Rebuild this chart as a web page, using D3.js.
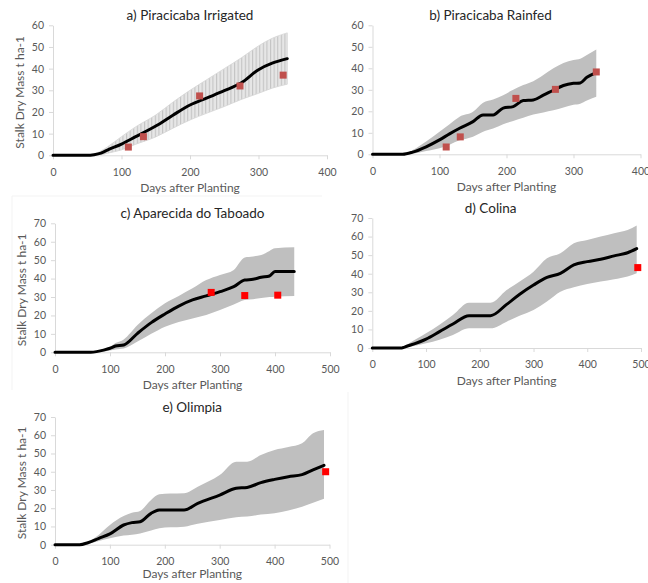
<!DOCTYPE html>
<html>
<head>
<meta charset="utf-8">
<script src="https://cdn.jsdelivr.net/npm/d3@7"></script>
<style>
  body { margin: 0; background: #fff; }
  svg { display: block; font-family: Lato, "Open Sans", sans-serif; }
</style>
</head>
<body>
<svg id="chart" width="648" height="583"></svg>
<script>
// a) Piracicaba Irrigated
const aDays = [0, 50, 60, 70, 80, 100, 120, 150, 175, 200, 225, 250, 275, 300, 320, 342];
const aMean = [0, 0, 0.3, 1, 2.5, 5.2, 8.5, 13.5, 18.5, 23.2, 26.5, 29.8, 33.5, 39.5, 42.5, 44.6];
const aUpper = [0, 0, 0.5, 2, 4, 8.6, 13, 18.6, 24.5, 30, 35, 40, 45, 50.5, 54, 56.5];
const aLower = [0, 0, 0, 0.2, 1, 2.5, 5, 8.5, 12.5, 16.3, 19.5, 22.5, 25.8, 28.6, 31, 32.8];
const aObsDays = [110, 132, 214, 273, 336];
const aObs = [3.8, 8.6, 27.4, 32, 37];

// b) Piracicaba Rainfed
const bDays = [0, 45, 60, 80, 100, 115, 130, 150, 165, 180, 195, 210, 225, 240, 255, 270, 285, 300, 310, 320, 334];
const bMean = [0, 0, 1, 3.5, 6.7, 9.5, 12.1, 15.2, 18.3, 18.3, 21.5, 22.2, 25, 25.3, 27.5, 29.8, 32, 33, 33.2, 35.8, 38];
const bUpper = [0, 0, 2, 6, 10.5, 14, 17.5, 19.8, 24, 25.5, 27.5, 30, 32.2, 34, 36.9, 40, 42.5, 43.9, 44.5, 46.2, 48.7];
const bLower = [0, 0, 0.3, 1.5, 2.8, 4.5, 6.5, 8.2, 10.5, 12, 14, 15.5, 17, 18.5, 19.5, 20.5, 21.8, 23, 23.5, 25, 26.8];
const bObsDays = [110, 131, 214, 273, 334];
const bObs = [3.4, 8.1, 26, 30.2, 38.3];

// c) Aparecida do Taboado
const cDays = [0, 65, 90, 100, 110, 125, 150, 175, 200, 225, 250, 275, 300, 325, 345, 360, 375, 390, 400, 435];
const cMean = [0, 0, 1.3, 2.2, 3.4, 4, 10.3, 16.1, 20.8, 25.1, 28.4, 30.6, 32.9, 35.6, 39.2, 39.6, 40.7, 41.4, 43.8, 43.8];
const cUpper = [0, 0, 2, 3, 5, 7, 14.8, 21.2, 26.6, 30.6, 34.7, 39.2, 42, 44.7, 51.5, 52, 52.8, 55, 56.4, 57];
const cLower = [0, 0, 0.5, 1, 1.5, 2, 5.8, 10, 13.9, 16.5, 18.4, 20.3, 23, 26, 28.4, 28.8, 29.5, 30, 30.2, 30.6];
const cObsDays = [284, 345, 405];
const cObs = [32.5, 30.8, 31];

// d) Colina
const dDays = [0, 55, 60, 100, 125, 150, 180, 200, 220, 250, 275, 300, 325, 350, 375, 400, 425, 450, 475, 492];
const dMean = [0, 0, 0.5, 4.8, 8.8, 12.9, 17.4, 17.4, 17.4, 23.5, 29.1, 33.9, 38, 40.2, 44.7, 46.5, 47.8, 49.6, 51.3, 53.5];
const dUpper = [0, 0, 1, 7.9, 12.5, 17.8, 24.4, 24.4, 24.4, 31.2, 36, 41.1, 48.3, 51, 56.4, 58.2, 60, 61.8, 63.5, 65.9];
const dLower = [0, 0, 0.2, 2.5, 4.5, 7, 10.6, 10.6, 10.6, 14.2, 17.5, 20.5, 25, 30.3, 32.7, 34.5, 35.8, 37, 38.5, 40.2];
const dObsDays = [494];
const dObs = [43.3];

// e) Olimpia
const eDays = [0, 45, 60, 80, 100, 125, 140, 155, 175, 190, 210, 235, 260, 300, 330, 350, 375, 400, 425, 450, 470, 490];
const eMean = [0, 0, 1.1, 3.5, 5.9, 10.8, 12.1, 12.6, 17.2, 19, 19, 19, 22.7, 27.2, 30.9, 31.4, 34, 35.8, 37.3, 38.4, 41, 43.5];
const eUpper = [0, 0, 1.5, 5.5, 10.8, 15.7, 17.5, 18.5, 24.5, 27.6, 28, 28.2, 31.8, 38.2, 45.5, 45.5, 49.2, 51.9, 53.5, 55.6, 61.1, 62.9];
const eLower = [0, 0, 0.5, 2, 3.5, 5, 5.5, 6.2, 7.8, 9, 9.5, 9.9, 11.5, 13.5, 15, 15.4, 16.5, 17.2, 18.8, 20.8, 23, 25.2];
const eObsDays = [493];
const eObs = [40];

const xTicks400 = [0, 100, 200, 300, 400];
const xTicks500 = [0, 100, 200, 300, 400, 500];
const yTicks60 = [0, 10, 20, 30, 40, 50, 60];
const yTicks70 = [0, 10, 20, 30, 40, 50, 60, 70];

const xLabel = "Days after Planting";
const yLabel = "Stalk Dry Mass t ha-1";

const panels = [
  { title: "a) Piracicaba Irrigated", days: aDays, mean: aMean, upper: aUpper, lower: aLower,
    obsDays: aObsDays, obs: aObs, xTicks: xTicks400, yTicks: yTicks60,
    x0: 53, x1: 327, y0: 155.3, y1: 25.3, hatch: true, obsColor: "#c0504d", showY: true },
  { title: "b) Piracicaba Rainfed", days: bDays, mean: bMean, upper: bUpper, lower: bLower,
    obsDays: bObsDays, obs: bObs, xTicks: xTicks400, yTicks: yTicks60,
    x0: 372.5, x1: 640.5, y0: 154.3, y1: 25.3, hatch: false, obsColor: "#c0504d", showY: false },
  { title: "c) Aparecida do Taboado", days: cDays, mean: cMean, upper: cUpper, lower: cLower,
    obsDays: cObsDays, obs: cObs, xTicks: xTicks500, yTicks: yTicks70,
    x0: 55, x1: 330, y0: 352.3, y1: 223.3, hatch: false, obsColor: "#ff0000", showY: true },
  { title: "d) Colina", days: dDays, mean: dMean, upper: dUpper, lower: dLower,
    obsDays: dObsDays, obs: dObs, xTicks: xTicks500, yTicks: yTicks70,
    x0: 372.3, x1: 641, y0: 348, y1: 218, hatch: false, obsColor: "#ff0000", showY: false },
  { title: "e) Olimpia", days: eDays, mean: eMean, upper: eUpper, lower: eLower,
    obsDays: eObsDays, obs: eObs, xTicks: xTicks500, yTicks: yTicks70,
    x0: 55, x1: 329.5, y0: 544.7, y1: 417, hatch: false, obsColor: "#ff0000", showY: true }
];

const svg = d3.select("#chart");

// faint chart-area frames
svg.append("path").attr("d", "M12,196 H322 M12,196 V390").attr("stroke", "#f3f3f3").attr("fill", "none");
svg.append("path").attr("d", "M348,392 V583").attr("stroke", "#f3f3f3").attr("fill", "none");

// hatch pattern for panel a error bars
const defs = svg.append("defs");
const pat = defs.append("pattern").attr("id", "hatch")
  .attr("patternUnits", "userSpaceOnUse").attr("width", 3.6).attr("height", 10);
pat.append("rect").attr("width", 3.6).attr("height", 10).attr("fill", "#e6e6e6");
pat.append("rect").attr("width", 1.1).attr("height", 10).attr("fill", "#c4c4c4");

const curve = d3.curveMonotoneX;

panels.forEach(p => {
  const x = d3.scaleLinear().domain([0, d3.max(p.xTicks)]).range([p.x0, p.x1]);
  const y = d3.scaleLinear().domain([0, d3.max(p.yTicks)]).range([p.y0, p.y1]);
  const g = svg.append("g");

  const rows = p.days.map((d, i) => ({ d, m: p.mean[i], u: p.upper[i], l: p.lower[i] }));

  // uncertainty band
  g.append("path")
    .datum(rows)
    .attr("d", d3.area().curve(curve).x(r => x(r.d)).y0(r => y(r.l)).y1(r => y(r.u)))
    .attr("fill", p.hatch ? "url(#hatch)" : "#bfbfbf")
    .attr("stroke", p.hatch ? "#d4d4d4" : "none")
    .attr("stroke-width", 0.8);

  // axes
  const xAxis = g.append("g").attr("transform", `translate(0,${p.y0})`)
    .call(d3.axisBottom(x).tickValues(p.xTicks).tickSize(4).tickSizeOuter(0).tickPadding(9));
  const yAxis = g.append("g").attr("transform", `translate(${p.x0},0)`)
    .call(d3.axisLeft(y).tickValues(p.yTicks).tickSize(4).tickSizeOuter(0).tickPadding(5));
  [xAxis, yAxis].forEach(ax => {
    ax.select(".domain").attr("stroke", "#d9d9d9");
    ax.selectAll(".tick line").attr("stroke", "#d9d9d9");
    ax.selectAll(".tick text").attr("fill", "#595959").attr("font-size", 10.5)
      .attr("font-family", "Lato, sans-serif");
  });

  // simulated mean line
  g.append("path")
    .datum(rows)
    .attr("d", d3.line().curve(curve).x(r => x(r.d)).y(r => y(r.m)))
    .attr("fill", "none").attr("stroke", "#000").attr("stroke-width", 3)
    .attr("stroke-linejoin", "round").attr("stroke-linecap", "round");

  // observations
  const s = 7;
  g.selectAll("rect.obs")
    .data(p.obsDays.map((d, i) => ({ d, v: p.obs[i] })))
    .join("rect").attr("class", "obs")
    .attr("x", o => x(o.d) - s / 2).attr("y", o => y(o.v) - s / 2)
    .attr("width", s).attr("height", s).attr("fill", p.obsColor);

  // titles
  const cx = (p.x0 + p.x1) / 2;
  g.append("text").attr("x", cx + (p.showY ? 0 : -16)).attr("y", p.y1 - 5)
    .attr("text-anchor", "middle").attr("font-size", 13.5).attr("font-weight", 400)
    .attr("fill", "#262626")
    .text(p.title);
  g.append("text").attr("x", cx).attr("y", Math.min(p.y0 + 37, 578))
    .attr("text-anchor", "middle").attr("font-size", 12).attr("fill", "#595959")
    .text(xLabel);
  if (p.showY) {
    g.append("text")
      .attr("transform", `translate(${p.x0 - 29},${(p.y0 + p.y1) / 2 + 2}) rotate(-90)`)
      .attr("text-anchor", "middle").attr("font-size", 12).attr("fill", "#595959")
      .text(yLabel);
  }
});
</script>
</body>
</html>
